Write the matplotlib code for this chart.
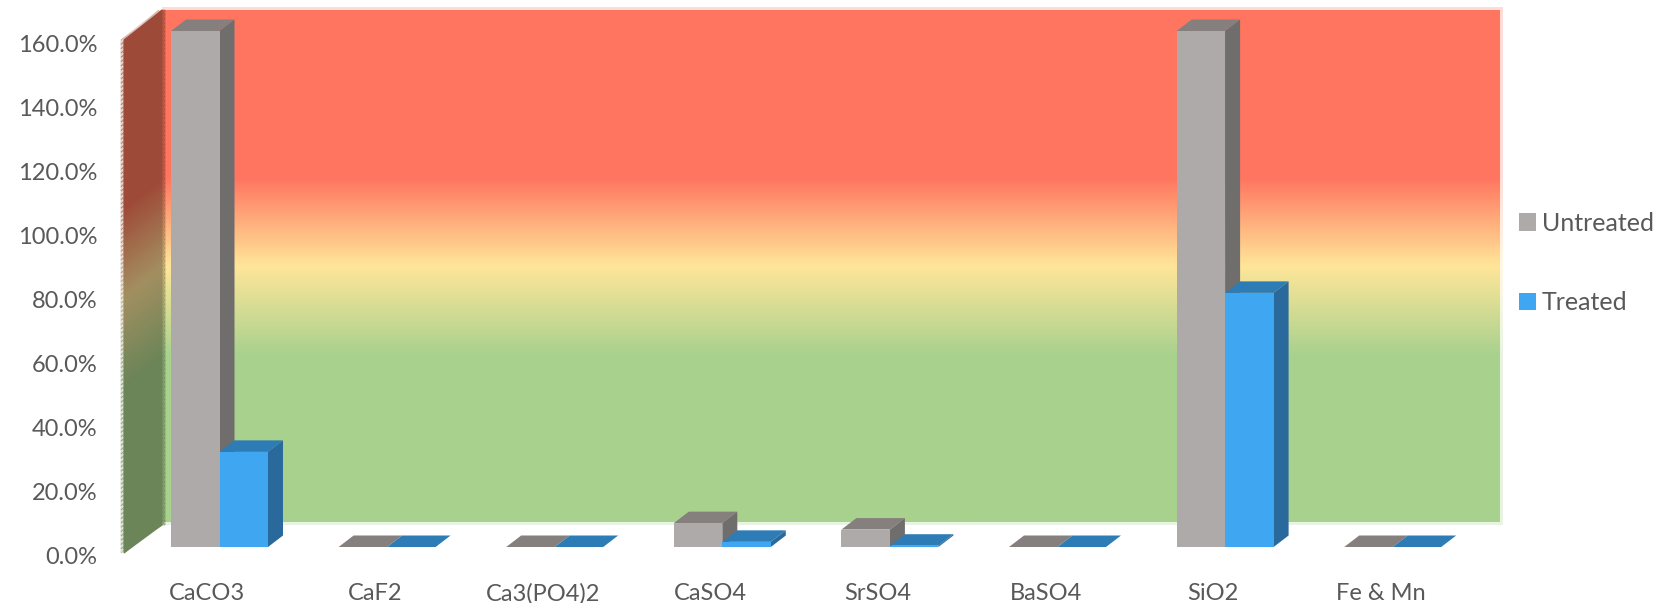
import numpy as np
import matplotlib
matplotlib.use("Agg")
import matplotlib.pyplot as plt
from matplotlib.colors import LinearSegmentedColormap
from matplotlib.patches import Polygon
from matplotlib.transforms import ScaledTranslation

categories = ["CaCO3", "CaF2", "Ca3(PO4)2", "CaSO4", "SrSO4", "BaSO4", "SiO2", "Fe & Mn"]
untreated = [160.0, 0.0, 0.0, 7.4, 5.4, 0.0, 160.0, 0.0]
treated = [29.5, 0.0, 0.0, 1.6, 0.4, 0.0, 78.8, 0.0]
y_ticks = [0, 20, 40, 60, 80, 100, 120, 140, 160]

W, H = 1671, 603
plt.rcParams["font.family"] = ["Lato", "DejaVu Sans"]

# colores
gris = ("#AEAAAA", "#85807E", "#706D6D")
azul = ("#3FA6F2", "#2E7CB6", "#2A699C")
texto = "#595959"

fig = plt.figure(figsize=(W / 100, H / 100), dpi=100, facecolor="white")

# fondo: pared trasera y pared lateral, en pixeles
bg = fig.add_axes([0, 0, 1, 1], zorder=0)
bg.set_xlim(0, W)
bg.set_ylim(H, 0)
bg.axis("off")

stops = [(0.0, "#FF7560"), (0.327, "#FF7560"), (0.50, "#FFE699"), (0.675, "#A9D18E"), (1.0, "#A9D18E")]
stops_osc = [(0.0, "#9E4A38"), (0.327, "#9E4A38"), (0.50, "#A38F60"), (0.675, "#6B8558"), (1.0, "#6B8558")]
cmap = LinearSegmentedColormap.from_list("fondo", stops)
cmap_osc = LinearSegmentedColormap.from_list("lateral", stops_osc)
grad = np.linspace(0, 1, 256).reshape(-1, 1)

bg.imshow(grad, cmap=cmap, extent=(162, 1503, 525, 7), aspect="auto", alpha=0.25, zorder=1)
bg.imshow(grad, cmap=cmap, extent=(162, 1500, 522, 10), aspect="auto", zorder=2)
bg.set_xlim(0, W)
bg.set_ylim(H, 0)

t = np.linspace(0, 1, 120)
X = np.column_stack([np.full_like(t, 124.0), np.full_like(t, 162.0)])
Y = np.column_stack([40 + t * 513, 10 + t * 515])
C = np.column_stack([t, t])
bg.pcolormesh(X - 3, Y, C, cmap=cmap_osc, shading="gouraud", alpha=0.25, zorder=3)
bg.pcolormesh(X, Y, C, cmap=cmap_osc, shading="gouraud", zorder=4)
X2 = np.column_stack([np.full_like(t, 162.0), np.full_like(t, 165.0)])
Y2 = np.column_stack([10 + t * 515, 10 + t * 515])
bg.pcolormesh(X2, Y2, C, cmap=cmap_osc, shading="gouraud", alpha=0.45, zorder=5)

# ejes de datos: plano frontal de las barras
paso = 167.6
ancho = 48.5
centro0 = 219.5
izq, der = 124, 1500
y0_px, y160_px = 547, 31
ax = fig.add_axes([izq / W, 1 - y0_px / H, (der - izq) / W, (y0_px - y160_px) / H], zorder=1)
ax.patch.set_alpha(0)
ax.set_xlim((izq - centro0) / paso, (der - centro0) / paso)
ax.set_ylim(0, 160)
for s in ax.spines.values():
    s.set_visible(False)

x = np.arange(len(categories))
w = ancho / paso
dx = 15 / paso
dy = 11.5 * 160 / (y0_px - y160_px)


def dibujar_barras(xs, valores, colores, etiqueta, z):
    frente, arriba, lado = colores
    barras = ax.bar(xs, valores, width=w, color=frente, linewidth=0, zorder=z + 1, label=etiqueta)
    for xi, v in zip(xs, valores):
        x1 = xi - w / 2
        x2 = xi + w / 2
        ax.add_patch(Polygon([(x1, v), (x2, v), (x2 + dx, v + dy), (x1 + dx, v + dy)],
                             facecolor=arriba, linewidth=0, clip_on=False, zorder=z))
        if v > 0:
            ax.add_patch(Polygon([(x2, 0), (x2 + dx, dy), (x2 + dx, v + dy), (x2, v)],
                                 facecolor=lado, linewidth=0, clip_on=False, zorder=z))
    return barras


h1 = dibujar_barras(x - w / 2, untreated, gris, "Untreated", 3)
h2 = dibujar_barras(x + w / 2, treated, azul, "Treated", 5)

ax.set_yticks(y_ticks)
ax.set_yticklabels([f"{v:.1f}%" for v in y_ticks], fontsize=17, color=texto)
ax.tick_params(axis="y", length=0, pad=19.4)
ax.set_xticks(x)
ax.set_xticklabels(categories, fontsize=17, color=texto)
ax.tick_params(axis="x", length=0, pad=26)

# etiquetas corridas respecto al plano de las barras
for lab, v in zip(ax.get_yticklabels(), y_ticks):
    corrimiento = 9 + 4 * v / 160
    lab.set_transform(lab.get_transform() + ScaledTranslation(0, -corrimiento / 100, fig.dpi_scale_trans))
for lab in ax.get_xticklabels():
    lab.set_transform(lab.get_transform() + ScaledTranslation(-12 / 100, 0, fig.dpi_scale_trans))

ax.legend(handles=[h1, h2], loc="center left", bbox_to_anchor=(1519 / W, 1 - 263 / H),
          bbox_transform=fig.transFigure, frameon=False, fontsize=18, labelcolor=texto,
          borderpad=0, borderaxespad=0, handlelength=0.68, handleheight=0.7,
          handletextpad=0.24, labelspacing=2.25)

fig.savefig("out.png", dpi=100)
